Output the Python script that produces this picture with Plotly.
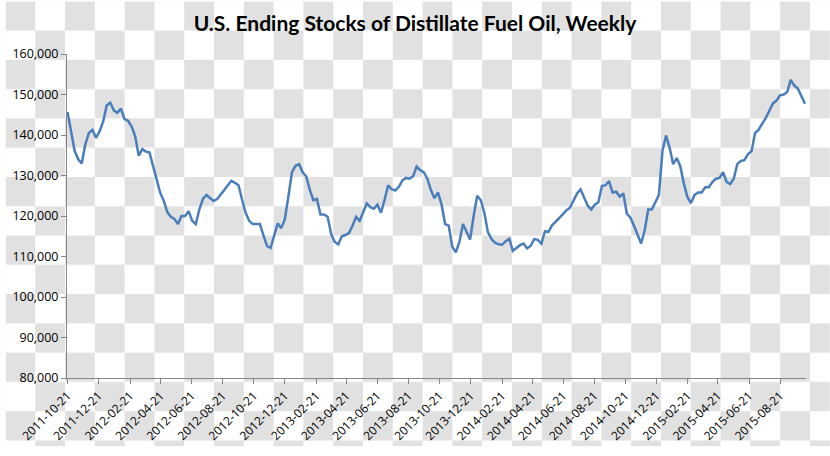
import base64
import pandas as pd
import plotly.graph_objects as go

# ---- data (thousand barrels), weekly from 2011-10-21 ----
start_date = "2011-10-21"
stocks = [
    145700, 140900, 136100, 134000, 133000, 137700, 140500, 141300, 139300, 140900,
    143300, 147300, 148000, 146100, 145500, 146500, 143900, 143500, 142100, 139700,
    134900, 136500, 135900, 135700, 132500, 129500, 125800, 123800, 121000, 119800,
    119300, 118000, 120000, 120000, 121200, 118800, 118000, 121600, 124200, 125200,
    124400, 123700, 124200, 125200, 126400, 127600, 128700, 128200, 127600, 124000,
    120800, 118800, 118000, 118000, 118000, 115200, 112600, 112100, 115200, 118200,
    117000, 119200, 124800, 130800, 132400, 132800, 130800, 129800, 126500, 123900,
    124200, 120400, 120400, 119800, 115600, 113600, 113000, 115000, 115300, 115800,
    117600, 119800, 118800, 120800, 123100, 122200, 121800, 122800, 120800, 124000,
    127600, 126600, 126300, 127200, 128800, 129400, 129200, 129800, 132200, 131300,
    130800, 129200, 126400, 124400, 125800, 122800, 118000, 117600, 112400, 111000,
    113600, 118000, 116100, 114200, 120000, 125000, 123900, 120800, 116000, 114300,
    113400, 113000, 112900, 113800, 114400, 111400, 112100, 112800, 113200, 112000,
    112600, 114300, 114100, 113200, 116200, 116100, 117700, 118700, 119500, 120400,
    121400, 122000, 123600, 125500, 126600, 124800, 122600, 121600, 122800, 123400,
    127400, 127600, 128600, 125800, 126000, 124800, 125600, 120600, 119600, 117600,
    115600, 113200, 116400, 121600, 121600, 123600, 125200, 136100, 139900, 136900,
    132800, 134300, 132300, 128000, 124700, 123200, 125200, 125800, 125800, 127100,
    127100, 128400, 129200, 129400, 130800, 128400, 127900, 129200, 132800, 133600,
    133800, 135300, 136000, 140500, 141300, 142800, 144200, 146000, 147800, 148500,
    149800, 150000, 150600, 153600, 152200, 151500, 149400, 147700,
]
dates = pd.date_range(start=start_date, periods=len(stocks), freq="7D")

x_ticks = [
    "2011-10-21", "2011-12-21", "2012-02-21", "2012-04-21", "2012-06-21", "2012-08-21",
    "2012-10-21", "2012-12-21", "2013-02-21", "2013-04-21", "2013-06-21", "2013-08-21",
    "2013-10-21", "2013-12-21", "2014-02-21", "2014-04-21", "2014-06-21", "2014-08-21",
    "2014-10-21", "2014-12-21", "2015-02-21", "2015-04-21", "2015-06-21", "2015-08-21",
]
y_ticks = [80000, 90000, 100000, 110000, 120000, 130000, 140000, 150000, 160000]
title_text = "U.S. Ending Stocks of Distillate Fuel Oil, Weekly"

# ---- layout geometry ----
W, H = 830, 456
ML, MR, MT, MB = 62, 24, 54, 70
PW, PH = W - ML - MR, H - MT - MB

# checkerboard background (transparency pattern of the reference picture)
svg = (
    f'<svg xmlns="http://www.w3.org/2000/svg" width="{W}" height="{H}">'
    '<defs><pattern id="p" width="60" height="60" patternUnits="userSpaceOnUse">'
    '<rect width="60" height="60" fill="#ffffff"/>'
    '<rect width="30" height="30" fill="#e1e1e1"/>'
    '<rect x="30" y="30" width="30" height="30" fill="#e1e1e1"/>'
    '</pattern></defs>'
    f'<rect width="{W}" height="{H}" fill="url(#p)"/></svg>'
)
bg_src = "data:image/svg+xml;base64," + base64.b64encode(svg.encode()).decode()

title_font = "Lato, 'Open Sans', sans-serif"
tick_font = "'Open Sans', 'Noto Sans', sans-serif"
axis_col = "#868686"

fig = go.Figure()
fig.add_trace(
    go.Scatter(
        x=dates,
        y=stocks,
        mode="lines",
        line=dict(color="#4A7EBB", width=2.5),
        hoverinfo="x+y",
    )
)

fig.update_layout(
    width=W,
    height=H,
    margin=dict(l=ML, r=MR, t=MT, b=MB, pad=0),
    paper_bgcolor="white",
    plot_bgcolor="rgba(0,0,0,0)",
    showlegend=False,
    font=dict(family=tick_font, color="#000000", size=12.5),
    title=dict(
        text=f"<b>{title_text}</b>",
        x=0.5,
        xanchor="center",
        y=1 - 24 / H,
        yanchor="middle",
        yref="container",
        font=dict(size=21, family=title_font, color="#000000"),
    ),
    images=[
        dict(
            source=bg_src,
            xref="paper",
            yref="paper",
            x=-ML / PW,
            y=1 + MT / PH,
            sizex=W / PW,
            sizey=H / PH,
            xanchor="left",
            yanchor="top",
            sizing="stretch",
            layer="below",
        )
    ],
)

fig.update_xaxes(
    type="date",
    range=["2011-10-20", "2015-10-11"],
    tickmode="array",
    tickvals=x_ticks,
    ticktext=x_ticks,
    tickangle=-45,
    showgrid=False,
    zeroline=False,
    showline=True,
    linecolor=axis_col,
    linewidth=1,
    ticks="outside",
    ticklen=5,
    tickcolor=axis_col,
    tickfont=dict(size=12, family=tick_font, color="#000000"),
)
fig.update_yaxes(
    range=[80000, 160000],
    tickmode="array",
    tickvals=y_ticks,
    tickformat=",d",
    showgrid=False,
    zeroline=False,
    showline=True,
    linecolor=axis_col,
    linewidth=1,
    ticks="outside",
    ticklen=5,
    tickcolor=axis_col,
    tickfont=dict(size=12.5, family=tick_font, color="#000000"),
)

fig.write_html(
    "out.html",
    config={"displayModeBar": False},
    post_script="document.body.style.margin='0';document.body.style.overflow='hidden';",
)
